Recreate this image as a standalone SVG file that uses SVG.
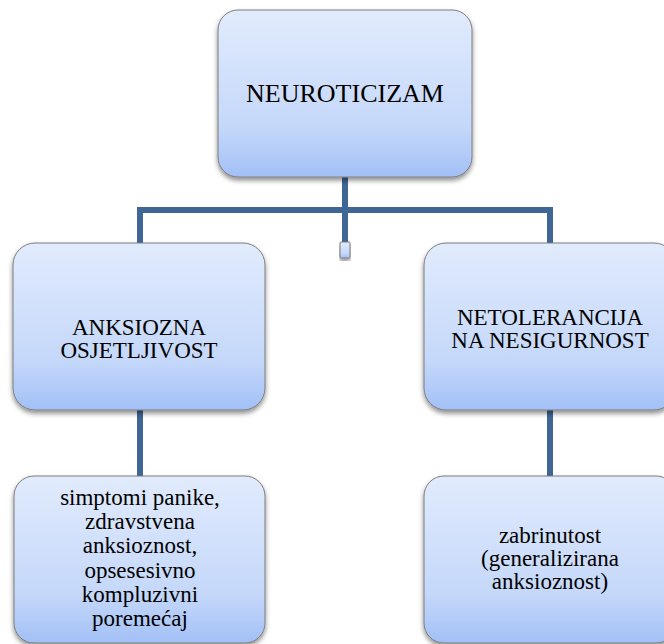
<svg xmlns="http://www.w3.org/2000/svg" width="664" height="644" viewBox="0 0 664 644">
<defs>
<linearGradient id="g" x1="0" y1="0" x2="0" y2="1">
<stop offset="0" stop-color="#e1ebfd"/>
<stop offset="0.7" stop-color="#c5d8fa"/>
<stop offset="1" stop-color="#a2c0f6"/>
</linearGradient>
<filter id="sh" x="-10%" y="-10%" width="120%" height="125%">
<feDropShadow dx="0" dy="3" stdDeviation="2.5" flood-color="#000" flood-opacity="0.45"/>
</filter>
</defs>
<style>
.box{fill:url(#g);stroke:#7d7d7d;stroke-width:1;filter:url(#sh)}
.con{fill:none;stroke:#3f6694;stroke-width:6;stroke-linejoin:miter}
.t{fill:#000;text-anchor:middle}
.big{font-size:26px}
.mid{font-size:23px}
.sm{font-size:23px}
</style>
<g id="connectors">
<path class="con" d="M345,176 V244"/>
<path class="con" d="M140,244 V210 H550 V244"/>
<path class="con" d="M140,409 V477"/>
<path class="con" d="M550,409 V477"/>
</g>
<g font-family="'Liberation Serif', Tinos, 'Times New Roman', 'DejaVu Serif', serif">
<g id="neuroticizam">
<rect class="box" x="218" y="10" width="254" height="167" rx="20"/>
<text class="t big" x="345" y="102">NEUROTICIZAM</text>
</g>
<g id="junction">
<rect class="box" x="340" y="242" width="10" height="16" rx="1"/>
</g>
<g id="anksiozna">
<rect class="box" x="13" y="243" width="252" height="167" rx="22"/>
<text class="t mid" x="139" y="335">ANKSIOZNA</text>
<text class="t mid" x="139" y="358">OSJETLJIVOST</text>
</g>
<g id="netolerancija">
<rect class="box" x="424" y="243" width="252" height="167" rx="22"/>
<text class="t mid" x="550" y="325">NETOLERANCIJA</text>
<text class="t mid" x="550" y="348">NA NESIGURNOST</text>
</g>
<g id="simptomi">
<rect class="box" x="14" y="476" width="251" height="167" rx="20"/>
<text class="t sm" x="140" y="505">simptomi panike,</text>
<text class="t sm" x="140" y="529">zdravstvena</text>
<text class="t sm" x="140" y="553">anksioznost,</text>
<text class="t sm" x="140" y="578">opsesesivno</text>
<text class="t sm" x="140" y="602">kompluzivni</text>
<text class="t sm" x="140" y="626">poremećaj</text>
</g>
<g id="zabrinutost">
<rect class="box" x="424" y="476" width="252" height="167" rx="20"/>
<text class="t sm" x="550" y="543">zabrinutost</text>
<text class="t sm" x="550" y="566">(generalizirana</text>
<text class="t sm" x="550" y="589">anksioznost)</text>
</g>
</g>
</svg>
